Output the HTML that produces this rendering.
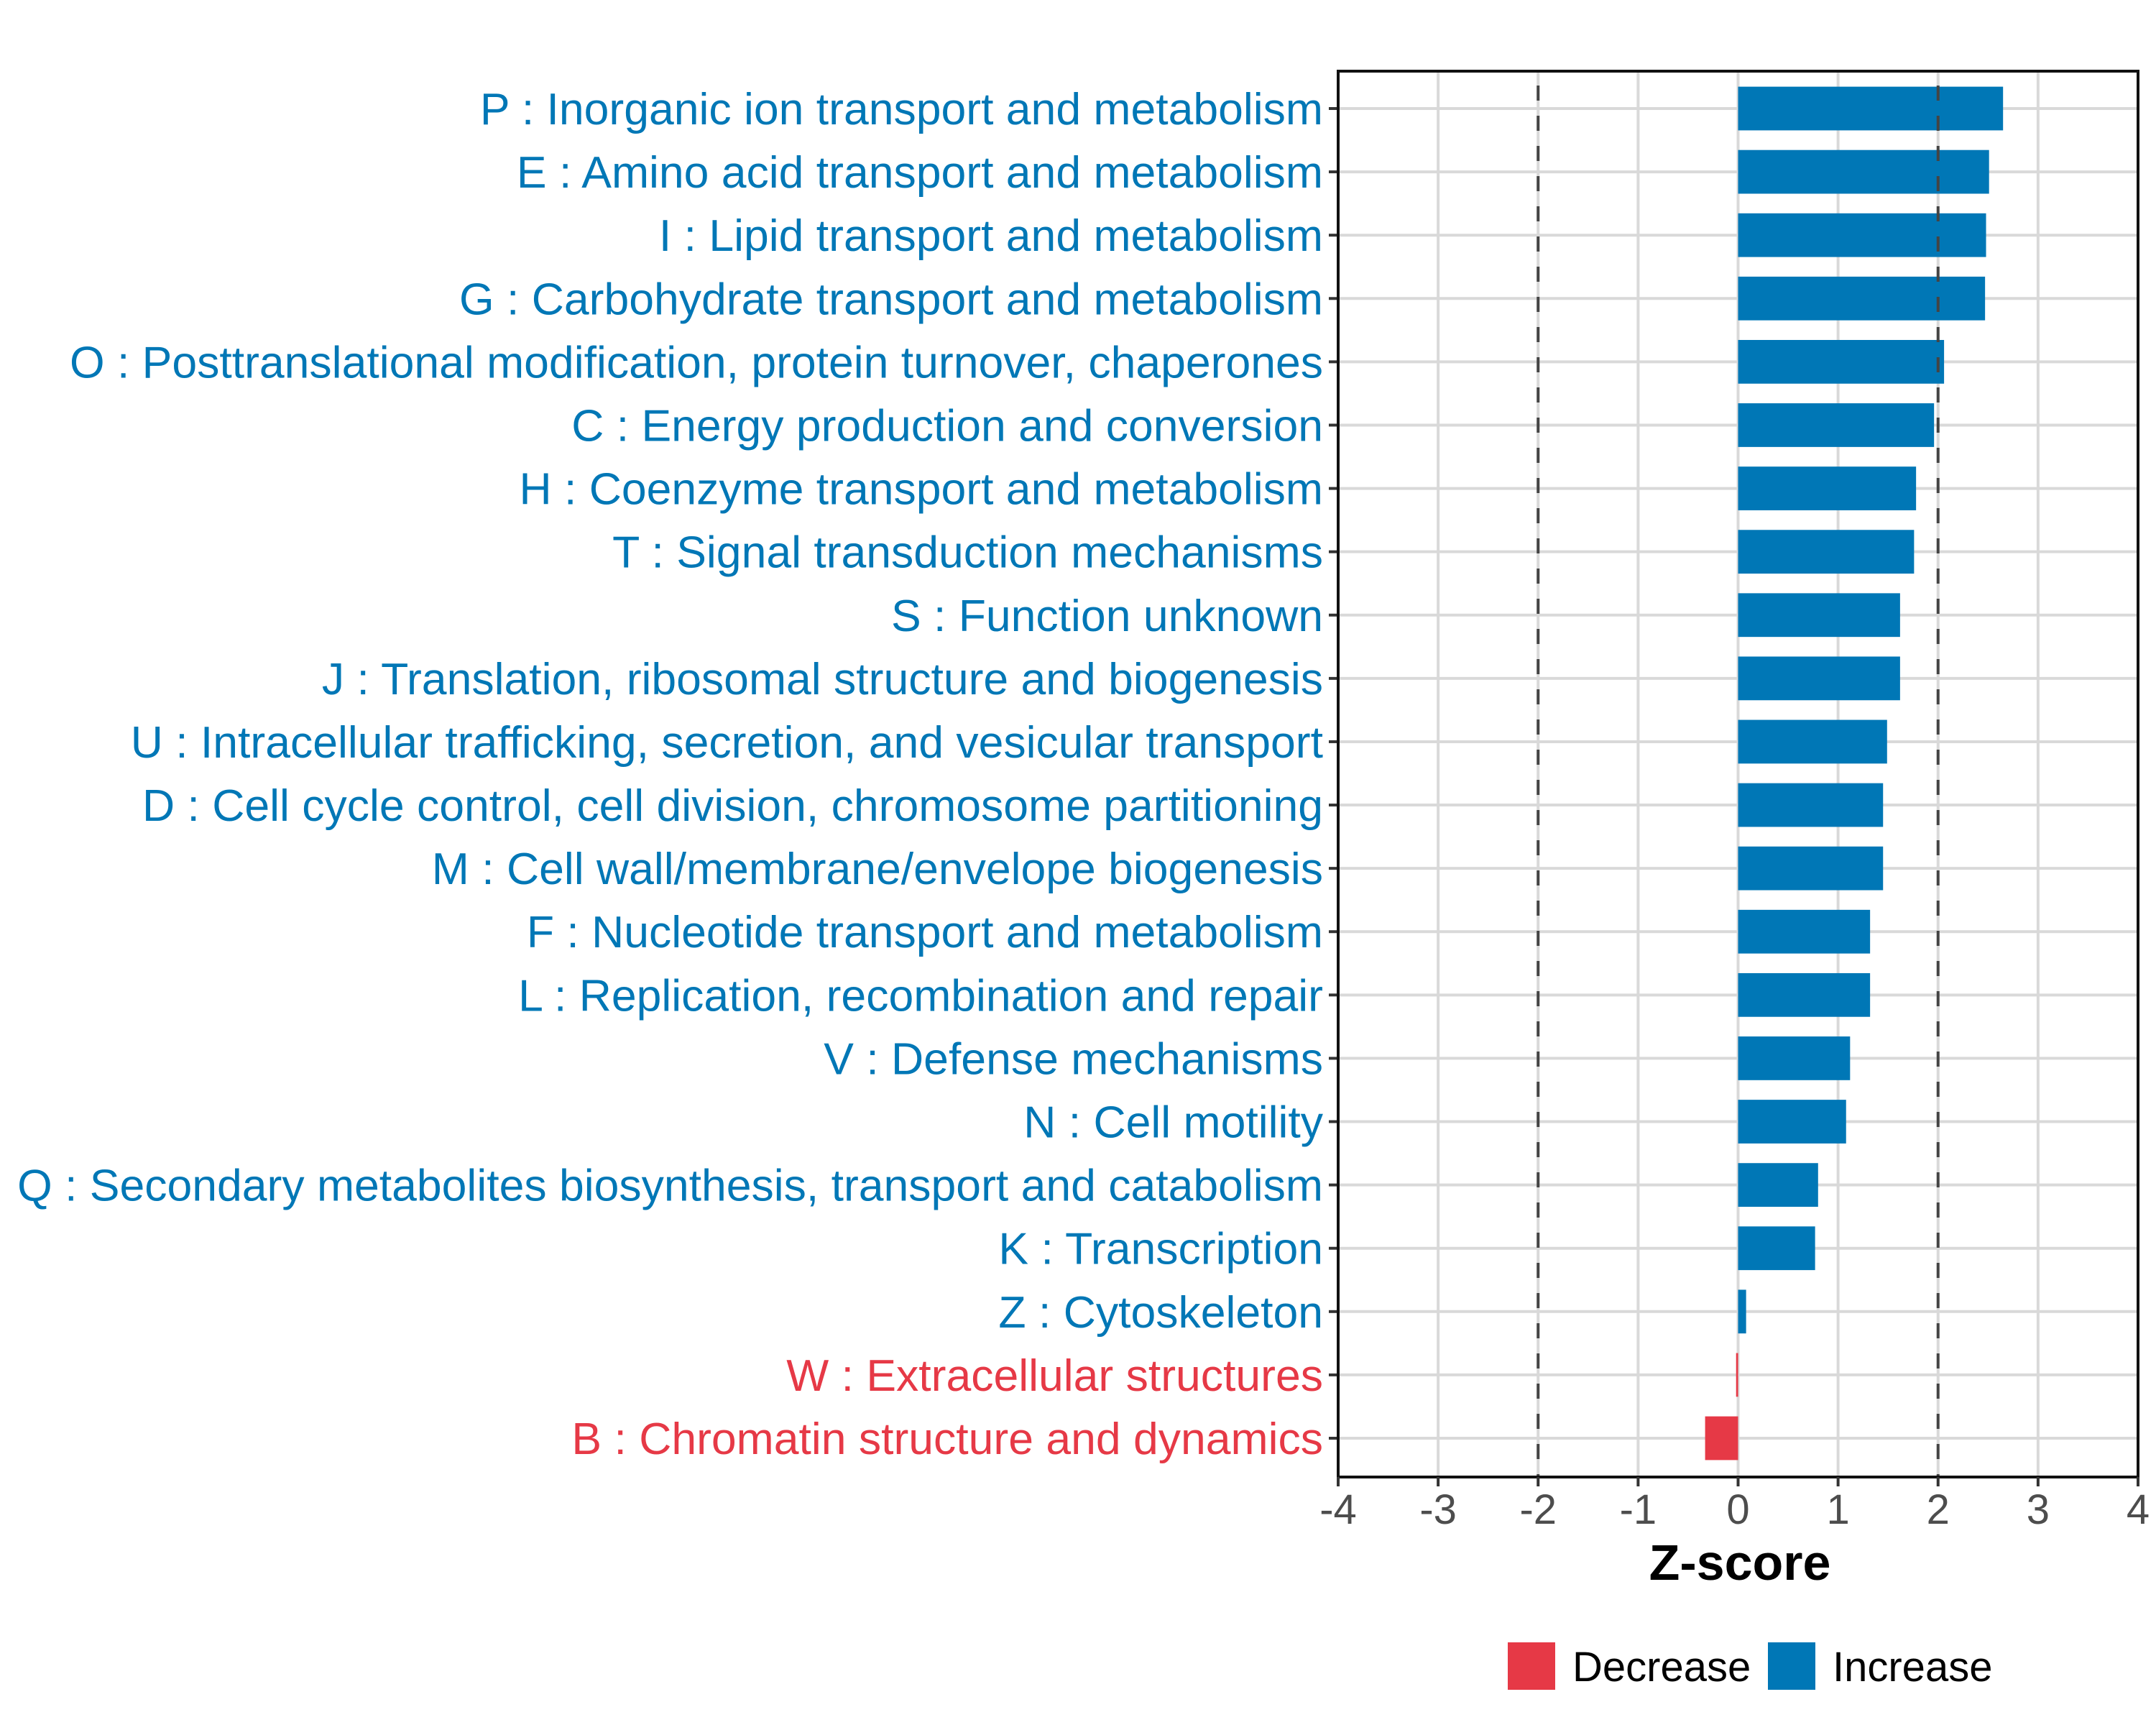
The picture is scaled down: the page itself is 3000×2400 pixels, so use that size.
<!DOCTYPE html>
<html><head><meta charset="utf-8"><style>
html,body{margin:0;padding:0;background:#fff;}
svg{display:block;font-family:"Liberation Sans",Arial,sans-serif;}
</style></head><body>
<svg id="chart" width="3000" height="2400" viewBox="0 0 3000 2400" xmlns="http://www.w3.org/2000/svg">
<rect width="3000" height="2400" fill="#fff"/>
<g id="grid"></g>
<g id="bars"></g>
<g id="ylabels"></g>
<g id="xaxis"></g>
<text x="2421" y="2198" text-anchor="middle" font-size="70" font-weight="bold" fill="#000">Z-score</text>
<g>
<g>
<rect x="2098" y="2285" width="66" height="66" fill="#E63946"/>
<text x="2188" y="2339" font-size="58" fill="#000">Decrease</text>
</g>
<g>
<rect x="2460" y="2285" width="66" height="66" fill="#0077B6"/>
<text x="2550" y="2339" font-size="58" fill="#000">Increase</text>
</g>
</g>
</svg>
<script>
const categories = ["P : Inorganic ion transport and metabolism","E : Amino acid transport and metabolism","I : Lipid transport and metabolism","G : Carbohydrate transport and metabolism","O : Posttranslational modification, protein turnover, chaperones","C : Energy production and conversion","H : Coenzyme transport and metabolism","T : Signal transduction mechanisms","S : Function unknown","J : Translation, ribosomal structure and biogenesis","U : Intracellular trafficking, secretion, and vesicular transport","D : Cell cycle control, cell division, chromosome partitioning","M : Cell wall/membrane/envelope biogenesis","F : Nucleotide transport and metabolism","L : Replication, recombination and repair","V : Defense mechanisms","N : Cell motility","Q : Secondary metabolites biosynthesis, transport and catabolism","K : Transcription","Z : Cytoskeleton","W : Extracellular structures","B : Chromatin structure and dynamics"];
const zscores = [2.65,2.51,2.48,2.47,2.06,1.96,1.78,1.76,1.62,1.62,1.49,1.45,1.45,1.32,1.32,1.12,1.08,0.80,0.77,0.08,-0.02,-0.33];
const xTicks = [-4,-3,-2,-1,0,1,2,3,4];
const xTickLabels = ["-4","-3","-2","-1","0","1","2","3","4"];
const thresholds = [-2,2];

const NS="http://www.w3.org/2000/svg";
const L=1862,R=2975,T=99,B=2055;
const xMin=-4,xMax=4;
function xs(v){return L+(v-xMin)/(xMax-xMin)*(R-L);}
const rowTop=151,rowStep=(2001-151)/21;
function ys(i){return rowTop+i*rowStep;}
function mk(tag,attrs,parent){const e=document.createElementNS(NS,tag);for(const k in attrs)e.setAttribute(k,attrs[k]);parent.appendChild(e);return e;}
const grid=document.getElementById('grid'),bars=document.getElementById('bars'),yl=document.getElementById('ylabels'),xa=document.getElementById('xaxis');
xTicks.forEach(v=>{const l=mk('line',{x1:xs(v),x2:xs(v),y1:T,y2:B,stroke:'#d9d9d9','stroke-width':4},grid);

});
categories.forEach((c,i)=>{const l=mk('line',{x1:L,x2:R,y1:ys(i),y2:ys(i),stroke:'#d9d9d9','stroke-width':4},grid);

});
const bh=rowStep*0.69;
categories.forEach((c,i)=>{const v=zscores[i];const x0=xs(Math.min(0,v)),x1=xs(Math.max(0,v));
const r=mk('rect',{x:x0,y:ys(i)-bh/2,width:Math.max(x1-x0,2),height:bh,fill:v<0?'#E63946':'#0077B6'},bars);


const t=mk('text',{x:1841,y:ys(i)+22,'text-anchor':'end','font-size':62.5,fill:v<0?'#E63946':'#0077B6'},yl);t.textContent=c;


const tk=mk('line',{x1:1849,x2:L,y1:ys(i),y2:ys(i),stroke:'#333','stroke-width':4},yl);

});
thresholds.forEach(v=>{const l=mk('line',{x1:xs(v),x2:xs(v),y1:T,y2:B,stroke:'#444','stroke-width':4,'stroke-dasharray':'21 21','stroke-dashoffset':'-20'},bars);

});
const pb=mk('rect',{x:L,y:T,width:R-L,height:B-T,fill:'none',stroke:'#111','stroke-width':4},xa);


xTicks.forEach((v,i)=>{const l=mk('line',{x1:xs(v),x2:xs(v),y1:B,y2:B+13,stroke:'#333','stroke-width':4},xa);


const t=mk('text',{x:xs(v),y:2120,'text-anchor':'middle','font-size':58,fill:'#4d4d4d'},xa);t.textContent=xTickLabels[i];

});
</script>
</body></html>
